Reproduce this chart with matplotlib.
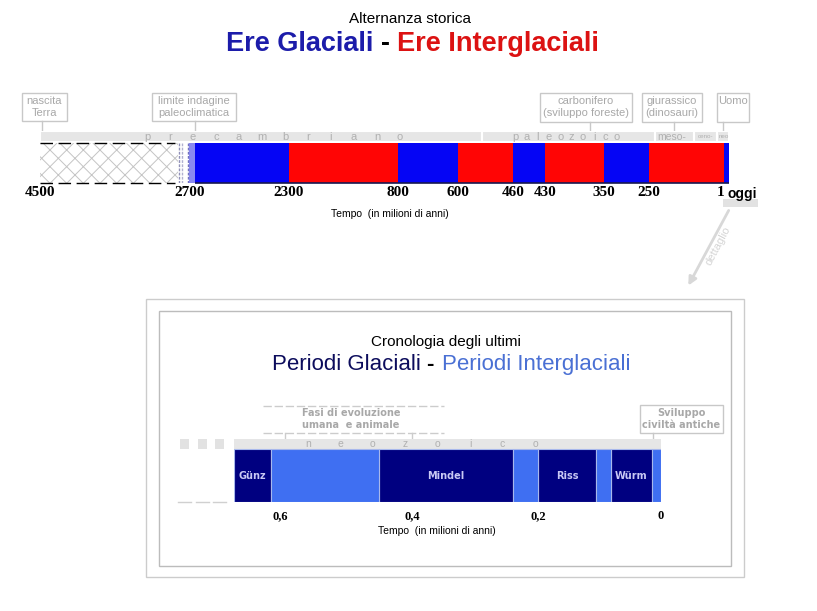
import numpy as np
import matplotlib
matplotlib.use("Agg")
import matplotlib.pyplot as plt
from matplotlib.patches import Rectangle

# ---- ere glaciali / interglaciali (milioni di anni fa) ----
ere_inizio = [2680, 2300, 800, 600, 460, 430, 350, 250, 1]
ere_fine = [2300, 800, 600, 460, 430, 350, 250, 1, 0]
ere_tipo = ['G', 'I', 'G', 'I', 'G', 'I', 'G', 'I', 'G']
ere_ticks = [4500, 2700, 2300, 800, 600, 460, 430, 350, 250, 1]
ere_ignota = (4500, 2850)          # prima del limite di indagine
ere_transizione = [2830, 2795, 2725]
eoni_inizio = [4500, 540, 230, 100, 23]
eoni_fine = [540, 230, 100, 23, 0]

# ---- periodi glaciali recenti (milioni di anni fa) ----
periodi_nomi = ['Günz', 'Mindel', 'Riss', 'Würm']
glaciali_inizio = [0.68, 0.45, 0.20, 0.082]
glaciali_fine = [0.615, 0.24, 0.105, 0.014]
interglaciali_inizio = [0.615, 0.24, 0.105, 0.014]
interglaciali_fine = [0.45, 0.20, 0.082, 0]
periodi_ticks = [0.6, 0.4, 0.2, 0]
periodi_ticklabels = ['0,6', '0,4', '0,2', '0']

W, H = 817, 611
SANS = 'Liberation Sans'
SERIF = 'Liberation Serif'
VERD = 'DejaVu Sans'
GRAY_TXT = '#a8a8a8'
GRAY_LN = '#c8c8c8'
BAND = '#e6e6e6'
LETTER = '#b0b0b0'


def rect_px(x0, y0, x1, y1):
    return [x0 / W, 1 - y1 / H, (x1 - x0) / W, (y1 - y0) / H]


def page_axes(fig, z):
    ax = fig.add_axes([0, 0, 1, 1], zorder=z)
    ax.set_xlim(0, W)
    ax.set_ylim(H, 0)
    ax.axis('off')
    ax.patch.set_alpha(0)
    return ax


# piecewise time axis (older on the left); knots give where each age sits on the page
def time_axis(fig, t_knots, px_knots, y0, y1):
    t = np.asarray(t_knots, float)
    p = np.asarray(px_knots, float)
    o1, o2 = np.argsort(t), np.argsort(-p)
    fwd = lambda x: -np.interp(x, t[o1], p[o1])
    inv = lambda y: np.interp(y, -p[o2], t[o2])
    ax = fig.add_axes(rect_px(p.min(), y0, p.max(), y1), zorder=2)
    ax.set_facecolor('none')
    ax.set_xscale('function', functions=(fwd, inv))
    for s in ax.spines.values():
        s.set_visible(False)
    ax.set_yticks([])
    return ax, fwd, inv


def spaced(ax, word, x0, x1, y, **kw):
    for x, ch in zip(np.linspace(x0, x1, len(word)), word):
        ax.text(x, y, ch, ha='center', va='center', **kw)


def callout(ax, x0, y0, x1, y1, text, ty, xc, y_to, **kw):
    ax.add_patch(Rectangle((x0, y0), x1 - x0, y1 - y0, fill=False, ec=GRAY_LN, lw=1))
    ax.text((x0 + x1) / 2, ty, text, ha='center', va='center', color=GRAY_TXT,
            linespacing=1.3, **kw)
    ax.plot([xc, xc], [y1, y_to], color=GRAY_LN, lw=1)


plt.rcParams['hatch.linewidth'] = 0.7
fig = plt.figure(figsize=(W / 100, H / 100), dpi=100)
cv = page_axes(fig, 0)   # boxes, titles, callouts
ov = page_axes(fig, 3)   # lettering that sits on top of the bars

# ---------------- titolo ----------------
cv.text(410, 23, 'Alternanza storica', ha='center', va='baseline', fontsize=11, family=SANS)
cv.text(373, 51, 'Ere Glaciali', ha='right', va='baseline', fontsize=19.5,
        weight='bold', family=SANS, color='#1c1caa')
cv.text(386, 51, '-', ha='center', va='baseline', fontsize=19.5, weight='bold', family=SANS)
cv.text(397, 51, 'Ere Interglaciali', ha='left', va='baseline', fontsize=19.5,
        weight='bold', family=SANS, color='#dc1212')

# ---------------- asse ere ----------------
ax1, f1, i1 = time_axis(fig, [0, 1, 250, 350, 430, 460, 600, 800, 2300, 2700, 4500],
                        [729, 724, 649, 604, 545, 513, 458, 398, 289, 190, 40], 131, 183)
ax1.set_ylim(183, 131)
ax1.broken_barh([(b, a - b) for a, b in zip(eoni_inizio, eoni_fine)], (131, 11),
                facecolor=BAND, edgecolor='white', lw=1.5)
ax1.broken_barh([(ere_ignota[1], ere_ignota[0] - ere_ignota[1])], (143, 40),
                facecolor='white', edgecolor='#c4c4c4', hatch='xx', lw=0)
ax1.vlines(ere_transizione, 143, 183, colors=['#9090b8', '#b0b0d0', '#7070c0'],
           linestyles=(0, (2, 1)), lw=1)
ax1.broken_barh([(2680, 35)], (143, 40), facecolor='#8a8af0', lw=0)
col = {'G': '#0505f5', 'I': '#ff0505'}
ax1.broken_barh([(b, a - b) for a, b in zip(ere_inizio, ere_fine)], (143, 40),
                facecolors=[col[k] for k in ere_tipo], lw=0)
ax1.hlines(183, ere_inizio[0], 0, colors='#181850', lw=1.2, clip_on=False)
ax1.hlines([143, 183], 4500, 2880, colors='black', lw=1, linestyles=(0, (9, 4)), clip_on=False)
ax1.set_xticks(ere_ticks)
ax1.set_xticklabels([str(t) for t in ere_ticks], family=SERIF, weight='bold', fontsize=11)
ax1.get_xticklabels()[-1].set_ha('right')
ax1.tick_params(axis='x', length=0, pad=2)
ax1.set_xlim(4500, 0)

spaced(ov, 'precambriano', 147, 400, 136.5, fontsize=8, family=SANS, color=LETTER)
spaced(ov, 'paleozoico', 515, 617, 136.5, fontsize=8, family=SANS, color=LETTER)
ov.text(672, 136.5, 'meso-', ha='center', va='center', fontsize=7.5, family=SANS, color=LETTER)
ov.text(706, 137, 'ceno-', ha='center', va='center', fontsize=4.5, family=SANS, color=LETTER)
ov.text(724, 137, 'neo', ha='center', va='center', fontsize=4.5, family=SANS, color=LETTER)

callout(cv, 22, 93, 67, 121, 'nascita\nTerra', 107, 42, 131, fontsize=8, family=SANS)
callout(cv, 152, 93, 236, 121, 'limite indagine\npaleoclimatica', 107, 195, 131, fontsize=8, family=SANS)
callout(cv, 540, 93, 632, 122, 'carbonifero\n(sviluppo foreste)', 107, 590, 131, fontsize=8, family=SANS)
callout(cv, 642, 93, 702, 122, 'giurassico\n(dinosauri)', 107, 674, 131, fontsize=8, family=SANS)
callout(cv, 717, 93, 749, 122, 'Uomo', 101, 723, 131, fontsize=8, family=SANS)

cv.add_patch(Rectangle((723, 199), 35, 8, color='#e2e2e2', lw=0))
cv.text(728, 198, 'oggi', ha='left', va='baseline', fontsize=10, weight='bold', family=SANS)
cv.text(390, 214, 'Tempo  (in milioni di anni)', ha='center', va='center', fontsize=7.5, family=SANS)

cv.annotate('', xy=(687, 288), xytext=(730, 208),
            arrowprops=dict(arrowstyle='-|>', color='#d8d8d8', lw=2, mutation_scale=12))
cv.text(718, 246, 'dettaglio', rotation=62, ha='center', va='center', fontsize=8,
        family=SANS, color='#d4d4d4', rotation_mode='anchor')

# ---------------- riquadro dettaglio ----------------
cv.add_patch(Rectangle((146, 299), 598, 278, fill=False, ec='#cccccc', lw=1))
cv.add_patch(Rectangle((159, 311), 572, 255, fill=False, ec='#bcbcbc', lw=1))
cv.text(446, 346, 'Cronologia degli ultimi', ha='center', va='baseline', fontsize=11, family=SANS)
cv.text(421, 370, 'Periodi Glaciali', ha='right', va='baseline', fontsize=16, family=SANS,
        color='#0c0c5c')
cv.text(430, 370, '-', ha='center', va='baseline', fontsize=16, family=SANS, weight='bold')
cv.text(442, 370, 'Periodi Interglaciali', ha='left', va='baseline', fontsize=16, family=SANS,
        color='#4a70d4')

ax2, f2, i2 = time_axis(fig, [0, 0.2, 0.4, 0.6, 0.68], [661, 538, 412, 280, 234], 439, 502)
ax2.set_ylim(502, 439)
ax2.broken_barh([(0, 0.68)], (439, 10), facecolor=BAND, lw=0)
ax2.broken_barh([(b, a - b) for a, b in zip(glaciali_inizio, glaciali_fine)], (449, 53),
                facecolor='#000080', edgecolor='#a8b8ec', lw=0.8)
ax2.broken_barh([(b, a - b) for a, b in zip(interglaciali_inizio, interglaciali_fine)], (449, 53),
                facecolor='#3f6ff2', edgecolor='#a8b8ec', lw=0.8)
for nome, a, b in zip(periodi_nomi, glaciali_inizio, glaciali_fine):
    xm = i2((f2(a) + f2(b)) / 2)
    ax2.text(xm, 476, nome, ha='center', va='center', fontsize=7, weight='bold',
             family=VERD, color='#c8c8f4')
ax2.set_xticks(periodi_ticks)
ax2.set_xticklabels(periodi_ticklabels, family=SERIF, weight='bold', fontsize=9)
ax2.tick_params(axis='x', length=0, pad=6)
ax2.set_xlim(0.68, 0)

spaced(ov, 'neozoico', 308, 535, 444, fontsize=7.5, family=SANS, color=LETTER)
for x in (180, 198, 215):
    cv.add_patch(Rectangle((x, 439), 9, 10, color='#e2e2e2', lw=0))
    cv.plot([x - 2, x + 11], [502, 502], color='#d0d0d0', lw=1)

cv.plot([263, 444], [406, 406], color='#cccccc', lw=1, ls=(0, (6, 2)))
cv.plot([263, 444], [433, 433], color='#cccccc', lw=1, ls=(0, (6, 2)))
cv.plot([285, 285], [433, 439], color='#cccccc', lw=1)
cv.plot([412, 412], [433, 439], color='#cccccc', lw=1)
cv.text(351, 419, 'Fasi di evoluzione\numana  e animale', ha='center', va='center',
        fontsize=7, weight='bold', family=VERD, color=GRAY_TXT, linespacing=1.35)
callout(cv, 640, 405, 723, 433, 'Sviluppo\nciviltà antiche', 419, 653, 439,
        fontsize=7, weight='bold', family=VERD)

cv.text(437, 531, 'Tempo  (in milioni di anni)', ha='center', va='center', fontsize=7.5, family=SANS)

fig.savefig('out.png', dpi=100)
